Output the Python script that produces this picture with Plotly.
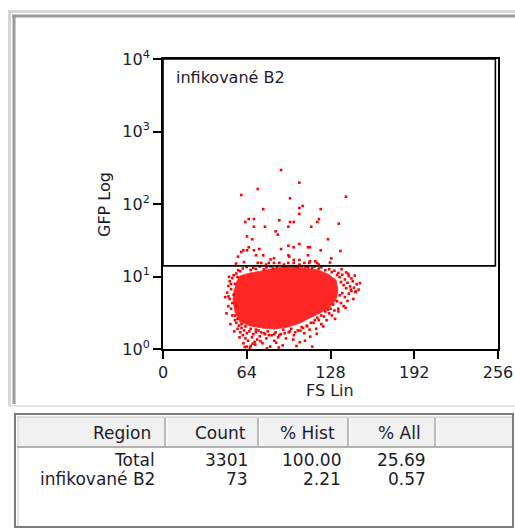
import plotly.graph_objects as go

# ---------------------------------------------------------------- data
# Events inside the "infikované B2" gate: FS channel, GFP intensity
gated_fs = [90.2, 104.2, 59.8, 72.4, 97.1, 139.8, 106.8, 104.2, 76.6, 120.5,
            104.2, 65.5, 69.5, 62.9, 88.9, 97.1, 99.9, 119.2, 117.9, 134.3,
            69.5, 77.9, 95.8, 113.3, 86.1, 87.7, 64.2, 68.2, 126.1, 104.2,
            95.8, 99.9, 110.8, 112.3, 65.5, 61.4, 64.2, 59.8, 69.5, 73.6,
            90.2, 120.5, 57.3, 71.1, 76.6, 95.8, 96.5, 110.8, 84.8, 99.9,
            104.2, 112.3, 128.6, 72.4, 75.1, 80.8, 84.8, 88.9, 95.8, 99.9,
            108.0, 116.4, 117.7, 104.2, 119.0, 78.7, 92.5, 111.8, 61.9, 127.6,
            82.2, 135.6, 55.8]
gated_gfp = [294, 197, 133, 161, 120, 126, 94, 88, 85, 85,
             73, 62, 62, 56.5, 59.6, 56.5, 56.5, 62, 56.5, 53.5,
             48.6, 48.6, 48.6, 48.6, 42, 37.7, 35.8, 32.6, 32.6, 28.1,
             26.6, 25.3, 25.3, 25.3, 25.3, 23, 23, 21.8, 23, 23.9,
             23.9, 23, 18.8, 19.6, 19.6, 19.6, 18.8, 19.6, 17.8, 16.9,
             16.9, 16.2, 17.8, 15.4, 15.4, 15.4, 15.4, 15.4, 15.4, 15.4,
             15.4, 16.2, 15.4, 14.6, 14.6, 14.6, 14.6, 15.4, 15.8, 15.6,
             17.2, 22.5, 15.1]

# Sparser events around the edge of the main (GFP-negative) population
fringe_fs = [
    # upper edge, just under the gate
    59, 61, 64, 67, 69, 71, 74, 77, 79, 82, 84, 87, 91, 93, 95, 99, 101, 103,
    106, 109, 111, 114, 116, 119, 121, 124, 127, 129, 131, 133,
    # right edge
    134, 135, 136, 137, 138, 139, 140, 141, 142, 143, 144, 145, 146, 147, 148,
    137, 139, 141, 136, 135, 138, 134, 142, 144, 140, 133, 134, 143.5, 147.5,
    # lower edge
    56, 57, 58, 59, 60, 61, 62, 63, 64, 64, 65, 66, 67, 68, 69, 70, 71, 72,
    73, 74, 76, 77, 79, 80, 82, 83, 85, 86, 88, 90, 92, 94, 96, 98, 100, 102,
    103, 106, 108, 110, 112, 114, 115, 117, 119, 121, 123, 125, 127, 129, 131,
    126,
    130, 128, 124, 121, 118, 116, 113, 110, 107, 105, 101, 97, 93, 89, 85, 81,
    78, 75, 71, 67, 63, 60, 57, 55,
    # left edge
    49, 50, 51, 51, 52, 52, 53, 53, 54, 54, 55, 55, 56, 56, 57, 53, 50, 52,
    50, 51.5,
    # scattered further out
    47.5, 48.5, 50.5, 54.5, 58.5, 61.5, 66.5, 70.5, 74.5, 79.5, 86.5, 91.5,
    99.5, 108.5, 117.5, 122.5, 131.5, 139.5, 145.5, 149.5, 150.5, 146.5,
    141.5, 136.5, 57.5, 62.5, 68.5, 88.5, 104.5, 112.5,
]
fringe_gfp = [
    11.8, 12.9, 13.5, 12.3, 13.1, 12.7, 13.7, 12.5, 13.3, 13.8, 12.9, 13.6,
    13.9, 13.7, 13.8, 13.9, 13.8, 13.6, 13.9, 13.7, 13.5, 13.2, 13.8, 12.9,
    13.4, 12.2, 12.6, 11.5, 12.0, 10.5,
    11.2, 9.8, 8.4, 10.6, 7.6, 9.1, 6.9, 8.2, 10.1, 7.3, 6.3, 8.6, 7.0, 6.1,
    7.8, 5.9, 5.2, 4.6, 4.3, 5.5, 3.9, 3.6, 5.8, 9.4, 11.4, 4.55, 3.3, 6.6,
    6.25,
    2.3, 1.9, 2.1, 1.7, 1.95, 1.55, 1.8, 1.4, 1.65, 1.08, 1.3, 1.75, 1.1, 1.45,
    1.6, 1.25, 1.7, 1.35, 1.8, 1.5, 1.2, 1.65, 1.4, 1.75, 1.08, 1.55, 1.3, 1.7,
    1.45, 1.6, 1.85, 1.4, 1.7, 1.9, 1.55, 1.1, 1.8, 2.0, 1.65, 2.1, 1.85, 1.08,
    2.3, 1.9, 2.5, 2.2, 2.8, 2.5, 3.1, 2.9, 3.4, 3.5,
    4.1, 3.6, 3.3, 2.9, 2.7, 2.5, 2.3, 2.05, 1.95, 1.8, 1.7, 1.75, 1.65, 1.55,
    1.6, 1.55, 1.6, 1.7, 1.85, 1.9, 2.05, 2.2, 2.6, 2.9,
    6.0, 7.4, 4.9, 8.6, 3.6, 6.7, 9.5, 2.9, 5.6, 10.4, 2.5, 7.9, 11.0, 3.9,
    9.8, 4.3, 5.3, 7.9, 3.9, 2.2,
    5.2, 3.1, 9.9, 1.75, 1.45, 1.2, 1.04, 1.15, 1.28, 1.02, 1.22, 1.12,
    1.35, 1.3, 1.62, 2.05, 2.6, 3.7, 4.9, 6.6, 8.1, 10.3,
    10.9, 12.6, 12.2, 1.06, 1.18, 1.05, 1.24, 1.48,
]

# Outline of the saturated core of the main population
core_fs = [55.8, 58.8, 66.5, 75.7, 85.6, 97.1, 108.5, 118.5, 126.1, 132.2,
           133.7, 132.2, 127.6, 120.0, 112.3, 104.7, 95.5, 85.6, 75.7, 66.5,
           58.8, 55.0, 53.5, 54.3]
core_gfp = [8.14, 10.2, 11.2, 11.9, 13.1, 13.5, 13.1, 12.3, 10.8, 8.95,
            6.51, 4.74, 3.80, 3.14, 2.68, 2.28, 2.01, 1.89, 1.95, 2.08,
            2.36, 3.24, 4.74, 6.51]

# Gate "infikované B2" (rectangle, FS x GFP)
gate_name = "infikované B2"
gate_fs = [0, 254]
gate_gfp = [14, 10000]

x_ticks = [0, 64, 128, 192, 256]
y_ticks = [1, 10, 100, 1000, 10000]
y_tick_text = ["10<sup>0</sup>", "10<sup>1</sup>", "10<sup>2</sup>",
               "10<sup>3</sup>", "10<sup>4</sup>"]

# Statistics table
table_columns = ["Region", "Count", "% Hist", "% All"]
table_regions = ["Total", "infikované B2"]
table_counts = [3301, 73]
table_pct_hist = [100.00, 2.21]
table_pct_all = [25.69, 0.57]

# ---------------------------------------------------------------- layout helpers
W, H = 515, 529
FONT = "DejaVu Sans"
INK = "#1c1c2c"


def fx(x):
    return x / W


def fy(y):
    return 1 - y / H


fig = go.Figure()

# main population core
fig.add_trace(go.Scatter(
    x=core_fs, y=core_gfp, mode="lines", fill="toself",
    fillcolor="#ff2626", line=dict(width=0.8, color="#ff2a2a"),
    hoverinfo="skip", showlegend=False))

dot = dict(symbol="square", size=2.6, color="#ff0000", line=dict(width=0))
fig.add_trace(go.Scatter(x=fringe_fs, y=fringe_gfp, mode="markers",
                         marker=dot, showlegend=False))
fig.add_trace(go.Scatter(x=gated_fs, y=gated_gfp, mode="markers",
                         marker=dot, showlegend=False))

# gate rectangle
fig.add_trace(go.Scatter(
    x=[gate_fs[0], gate_fs[1], gate_fs[1], gate_fs[0], gate_fs[0]],
    y=[gate_gfp[0], gate_gfp[0], gate_gfp[1], gate_gfp[1], gate_gfp[0]],
    mode="lines", line=dict(color="#000000", width=1.6),
    hoverinfo="skip", showlegend=False))

axis_common = dict(
    showline=True, linecolor="#000000", linewidth=2, mirror=True,
    ticks="outside", ticklen=8, tickwidth=2, tickcolor="#000000",
    showgrid=False, zeroline=False, automargin=False,
    tickfont=dict(family=FONT, size=16, color=INK),
)

fig.update_layout(
    width=W, height=H, autosize=False,
    margin=dict(l=0, r=0, t=0, b=0, pad=0, autoexpand=False),
    paper_bgcolor="#ffffff", plot_bgcolor="#ffffff",
    xaxis=dict(domain=[fx(163), fx(498)], range=[0, 256],
               tickmode="array", tickvals=x_ticks,
               ticktext=[str(t) for t in x_ticks], **axis_common),
    yaxis=dict(domain=[fy(349), fy(59)], type="log", range=[0, 4],
               tickmode="array", tickvals=y_ticks, ticktext=y_tick_text,
               **axis_common),
)

ann = []
# axis titles
ann.append(dict(text="FS Lin", x=fx(330), y=fy(390), xref="paper", yref="paper",
                showarrow=False, xanchor="center", yanchor="middle",
                font=dict(family=FONT, size=16, color=INK)))
ann.append(dict(text="GFP Log", x=fx(105), y=fy(205), xref="paper", yref="paper",
                showarrow=False, textangle=-90, xanchor="center", yanchor="middle",
                font=dict(family=FONT, size=16, color=INK)))
# gate label
ann.append(dict(text=gate_name, x=fx(174), y=fy(78), xref="paper", yref="paper",
                showarrow=False, xanchor="left", yanchor="middle",
                font=dict(family=FONT, size=16, color=INK)))

shapes = []


def hline(y, x0, x1, color, w):
    shapes.append(dict(type="line", xref="paper", yref="paper",
                       x0=fx(x0), x1=fx(x1), y0=fy(y), y1=fy(y),
                       line=dict(color=color, width=w)))


def vline(x, y0, y1, color, w):
    shapes.append(dict(type="line", xref="paper", yref="paper",
                       x0=fx(x), x1=fx(x), y0=fy(y0), y1=fy(y1),
                       line=dict(color=color, width=w)))


def box(x0, y0, x1, y1, fill=None, color=None, w=0):
    shapes.append(dict(type="rect", xref="paper", yref="paper",
                       x0=fx(x0), x1=fx(x1), y0=fy(y0), y1=fy(y1),
                       fillcolor=fill or "rgba(0,0,0,0)",
                       line=dict(color=color or "rgba(0,0,0,0)", width=w),
                       layer="below"))


# sunken frame around the plot panel
hline(11.5, 8, 515, "#d6d6d6", 3)
vline(9.5, 11, 406, "#d6d6d6", 3)
hline(16, 12, 515, "#9a9a9a", 3)
vline(14, 15, 404, "#9a9a9a", 3)
hline(406, 8, 515, "#e4e4e4", 2)

# statistics table frame and header
box(18, 417, 512, 447, fill="#f0f0f0")
hline(414, 14, 514, "#7c7c7c", 2)
vline(15, 413, 528, "#7c7c7c", 2)
vline(513, 413, 528, "#7c7c7c", 2)
hline(527, 14, 514, "#7c7c7c", 2)
hline(417, 17, 512, "#c8c8c8", 1)
vline(18, 416, 526, "#c8c8c8", 1)
hline(447, 17, 512, "#9a9a9a", 1.5)
for sx in [165, 258, 348, 435]:
    vline(sx, 418, 446, "#a8a8a8", 1.5)
    vline(sx + 1.8, 418, 446, "#ffffff", 1)

header_right = [153, 248, 337, 423]
cell_right = [157, 250, 343, 428]
row_y = [460, 479]

for txt, xr in zip(table_columns, header_right):
    ann.append(dict(text=txt, x=fx(xr), y=fy(433), xref="paper", yref="paper",
                    showarrow=False, xanchor="right", yanchor="middle",
                    font=dict(family=FONT, size=17, color=INK)))

for i, region in enumerate(table_regions):
    cells = [region, f"{table_counts[i]}", f"{table_pct_hist[i]:.2f}",
             f"{table_pct_all[i]:.2f}"]
    for txt, xr in zip(cells, cell_right):
        ann.append(dict(text=txt, x=fx(xr), y=fy(row_y[i]), xref="paper",
                        yref="paper", showarrow=False, xanchor="right",
                        yanchor="middle",
                        font=dict(family=FONT, size=17, color=INK)))

fig.update_layout(annotations=ann, shapes=shapes)

fig.write_html("out.html")
